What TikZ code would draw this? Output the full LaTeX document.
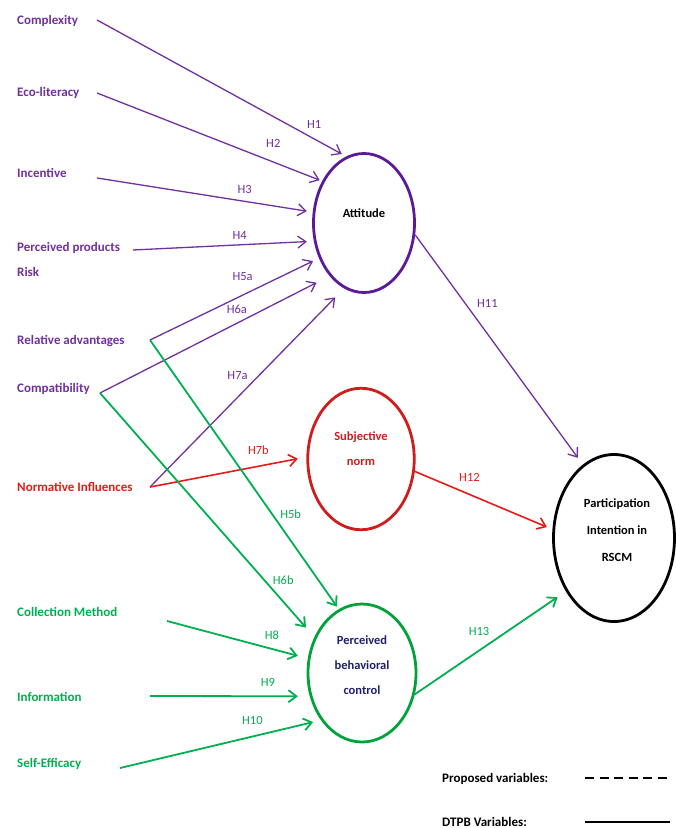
\documentclass[tikz,border=0pt]{standalone}
\usepackage{fontspec}
\setmainfont{Carlito}
\usepackage{tikz}
\usetikzlibrary{shapes.geometric,arrows.meta}
\definecolor{hpurple}{HTML}{7030A0}
\definecolor{attcolor}{HTML}{5B1A96}
\definecolor{hred}{HTML}{E41B17}
\definecolor{sncolor}{HTML}{D01C1C}
\definecolor{hgreen}{HTML}{00B050}
\definecolor{pbccolor}{HTML}{00A33A}
\definecolor{pbctext}{HTML}{1F1F6E}
\tikzstyle{varname} = [
    anchor=base west,
    inner sep=0pt,
    font=\bfseries\fontsize{13}{25}\selectfont
    ]
\tikzstyle{construct} = [
    ellipse,
    draw,
    line width=2.8pt,
    inner sep=0pt
    ]
\tikzstyle{ctext} = [
    align=center,
    inner sep=0pt,
    font=\bfseries\fontsize{12.5}{25}\selectfont
    ]
\tikzstyle{hyp} = [
    line width=1.4pt,
    -{Straight Barb[length=8pt,width=12pt]}
    ]
\tikzstyle{hlabel} = [
    inner sep=0pt,
    font=\fontsize{12.5}{14}\selectfont
    ]

\begin{document}
\begin{tikzpicture}[x=1pt,y=-1pt]
\useasboundingbox (0,0) rectangle (676,828);

% constructs
\node[construct, draw=attcolor, minimum width=101pt, minimum height=139pt] (attitude) at (364,223) {};
\node[construct, draw=sncolor, minimum width=106.5pt, minimum height=141.5pt] (subnorm) at (361,459) {};
\node[construct, draw=pbccolor, minimum width=108pt, minimum height=138pt] (pbc) at (362,673) {};
\node[construct, draw=black, minimum width=121pt, minimum height=167pt] (intention) at (614,538) {};

\node[ctext] (attitude-txt) at (364,213) {Attitude};
\node[ctext, text=sncolor] (subnorm-txt) at (361,449) {Subjective\\norm};
\node[ctext, text=pbctext] (pbc-txt) at (362,665) {Perceived\\behavioral\\control};
\node[ctext, font=\bfseries\fontsize{12.5}{27}\selectfont] (intention-txt) at (617,530) {Participation\\Intention in\\RSCM};

% variables
\node[varname, text=hpurple] (complexity) at (17,24) {Complexity};
\node[varname, text=hpurple] (ecolit) at (17,96) {Eco-literacy};
\node[varname, text=hpurple] (incentive) at (17,177) {Incentive};
\node[varname, text=hpurple, anchor=north west, align=left] (pprisk) at (17,242) {Perceived products\\Risk};
\node[varname, text=hpurple] (reladv) at (17,344) {Relative advantages};
\node[varname, text=hpurple] (compat) at (17,392) {Compatibility};
\node[varname, text=hred] (normative) at (17,491) {Normative Influences};
\node[varname, text=hgreen] (collect) at (17,616) {Collection Method};
\node[varname, text=hgreen] (info) at (17,701) {Information};
\node[varname, text=hgreen] (selfeff) at (17,767) {Self-Efficacy};

\coordinate (complexity-o) at (97,20);
\coordinate (ecolit-o) at (97,93);
\coordinate (incentive-o) at (97,178);
\coordinate (pprisk-o) at (133,250);
\coordinate (reladv-o) at (150,340);
\coordinate (compat-o) at (100,393);
\coordinate (normative-o) at (150,487);
\coordinate (collect-o) at (167,621);
\coordinate (info-o) at (150,696);
\coordinate (selfeff-o) at (120,768);

% hypotheses
\draw[hyp, hpurple, line width=1.3pt, shorten >=5pt] (complexity-o) -- (attitude.105) node[hlabel, pos=0.872, above=10pt] (h1) {H1};
\draw[hyp, hpurple, line width=1.3pt, shorten >=2.6pt] (ecolit-o) -- (attitude.135) node[hlabel, pos=0.783, above=13.5pt] (h2) {H2};
\draw[hyp, hpurple, line width=1.3pt, shorten >=6pt] (incentive-o) -- (attitude.168) node[hlabel, pos=0.685, above=7.5pt] (h3) {H3};
\draw[hyp, hpurple, line width=1.3pt, shorten >=7pt] (pprisk-o) -- (attitude.200) node[hlabel, pos=0.59, above=5pt] (h4) {H4};
\draw[hyp, hpurple, line width=1.3pt, shorten >=6.6pt] (reladv-o) -- (attitude.218) node[hlabel, pos=0.548, above=13.5pt] (h5a) {H5a};
\draw[hyp, hpurple, line width=1.3pt, shorten >=14.6pt] (compat-o) -- (attitude.237) node[hlabel, pos=0.596, above=9.5pt] (h6a) {H6a};
\draw[hyp, hpurple, line width=1.3pt, shorten >=12.5pt] (normative-o) -- (attitude.253) node[hlabel, pos=0.563, left=11pt] (h7a) {H7a};
\draw[hyp, hred, line width=1.6pt, shorten >=8.6pt] (normative-o) -- (subnorm.178) node[hlabel, pos=0.693, above=10.5pt] (h7b) {H7b};
\draw[hyp, hgreen, line width=1.8pt, shorten >=3pt] (reladv-o) -- (pbc.110) node[hlabel, pos=0.646, right=7.5pt] (h5b) {H5b};
\draw[hyp, hgreen, line width=1.8pt, shorten >=12.7pt] (compat-o) -- (pbc.143) node[hlabel, pos=0.765, right=8pt] (h6b) {H6b};
\draw[hyp, hgreen, line width=1.8pt, shorten >=10.3pt] (collect-o) -- (pbc.165) node[hlabel, pos=0.745, above=8pt] (h8) {H8};
\draw[hyp, hgreen, line width=1.8pt, shorten >=11.8pt] (info-o) -- (pbc.204) node[hlabel, pos=0.738, above=9pt] (h9) {H9};
\draw[hyp, hgreen, line width=1.8pt, shorten >=8pt] (selfeff-o) -- (pbc.229) node[hlabel, pos=0.659, above=11.5pt] (h10) {H10};
\draw[hyp, hpurple, line width=1.3pt, shorten >=8.4pt] (attitude.347) -- (intention.113) node[hlabel, pos=0.30, right=11pt] (h11) {H11};
\draw[hyp, hred, line width=1.6pt, shorten >=6pt] (subnorm.347) -- (intention.172) node[hlabel, pos=0.397, above=12pt] (h12) {H12};
\draw[hyp, hgreen, line width=1.8pt, shorten >=10pt] (pbc.338) -- (intention.228) node[hlabel, pos=0.425, above=14pt] (h13) {H13};

% legend
\node[varname, text=black] (legend-prop) at (442,782) {Proposed variables:};
\node[varname, text=black] (legend-dtpb) at (442,826) {DTPB Variables:};
\draw[line width=1.6pt, dash pattern=on 9pt off 5.5pt] (585,778) -- (670,778);
\draw[line width=1.6pt] (585,822) -- (670,822);
\end{tikzpicture}
\end{document}
